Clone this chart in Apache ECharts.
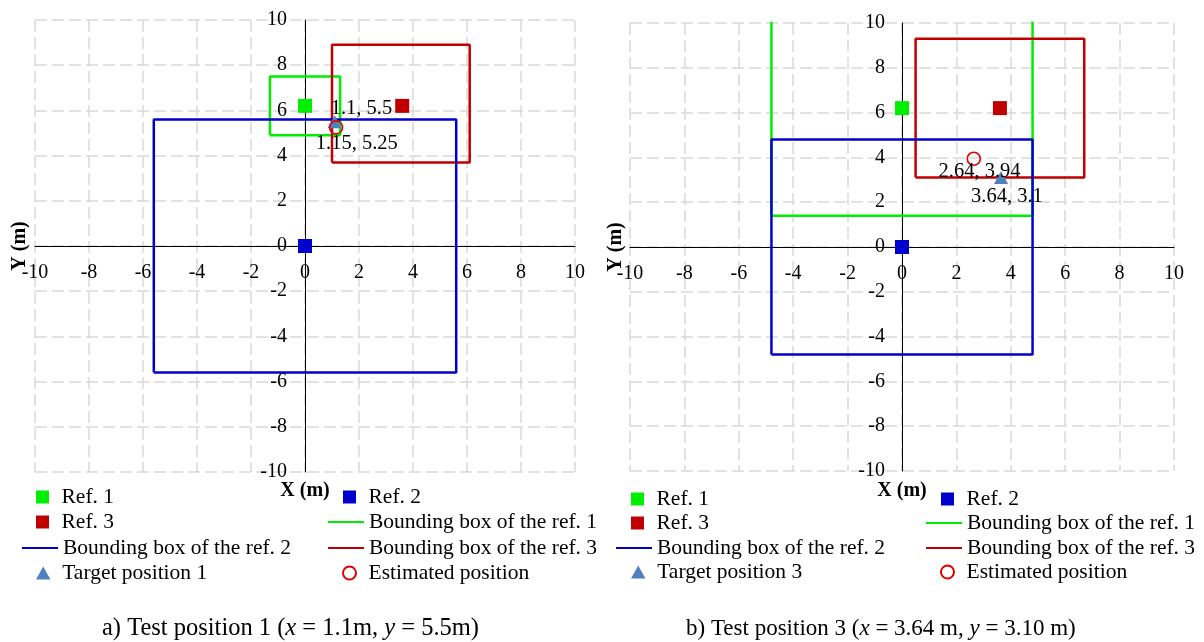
<!DOCTYPE html>
<html>
<head>
<meta charset="utf-8">
<script src="https://cdn.jsdelivr.net/npm/echarts@6/dist/echarts.min.js"></script>
<style>
  html, body { margin: 0; padding: 0; background: #ffffff; }
  #chart { width: 1204px; height: 642px; }
</style>
</head>
<body>
<div id="chart"></div>
<script>
// ---------- axis range ----------
const axisMin = -10;
const axisMax = 10;
const axisStep = 2;

// ---------- a) Test position 1 ----------
const aRef1 = [[0, 6.2]];
const aRef2 = [[0, 0]];
const aRef3 = [[3.6, 6.2]];
// bounding boxes: [xmin, xmax, ymin, ymax]
const aBox1 = [-1.3, 1.3, 4.9, 7.5];
const aBox2 = [-5.6, 5.6, -5.6, 5.6];
const aBox3 = [1.0, 6.1, 3.7, 8.9];
const aTarget = [[1.1, 5.5]];
const aEstimate = [[1.15, 5.25]];

// ---------- b) Test position 3 ----------
const bRef1 = [[0, 6.2]];
const bRef2 = [[0, 0]];
const bRef3 = [[3.6, 6.2]];
const bBox1 = [-4.8, 4.8, 1.4, 11.0];
const bBox2 = [-4.8, 4.8, -4.8, 4.8];
const bBox3 = [0.5, 6.7, 3.1, 9.3];
const bTarget = [[3.64, 3.1]];
const bEstimate = [[2.64, 3.94]];

const FONT = '"Liberation Serif", "Times New Roman", serif';
const GREEN = '#00ee00', BLUE = '#0000cc', RED = '#c00000', TRI = '#4f81bd', CIRC = '#dd0000';
const SQUARE = 'path://M0,0H10V10H0Z';
const TRIANGLE = 'path://M5,0L10,9L0,9Z';
const TICK_FS = 20;
const LABEL_FS = 20.5;
const LEGEND_FS = 21.5;

function boxPath(b) {
  return [[b[0], b[2]], [b[1], b[2]], [b[1], b[3]], [b[0], b[3]], [b[0], b[2]]];
}

function lineSeries(name, box, color, i) {
  return {
    type: 'line', name, data: boxPath(box), xAxisIndex: i, yAxisIndex: i,
    symbol: 'none', clip: true, silent: true,
    lineStyle: { color, width: 2.5 }, itemStyle: { color, opacity: 0 }, z: 2
  };
}
function squareSeries(name, data, color, i) {
  return {
    type: 'scatter', name, data, xAxisIndex: i, yAxisIndex: i,
    symbol: SQUARE, symbolSize: 14, itemStyle: { color, opacity: 1 }, z: 3
  };
}
function labelFmt(p) { return p.value[0] + ', ' + p.value[1]; }

function pointSeries(i, target, estimate, targetName, tPos, ePos) {
  return [
    {
      type: 'scatter', name: targetName, data: target, xAxisIndex: i, yAxisIndex: i,
      symbol: TRIANGLE, symbolSize: [14, 13], itemStyle: { color: TRI, opacity: 1 }, z: 4,
      label: { show: true, formatter: labelFmt, position: tPos, align: 'left', verticalAlign: 'middle',
               fontFamily: FONT, fontSize: LABEL_FS, color: '#000' }
    },
    {
      type: 'scatter', name: 'Estimated position', data: estimate, xAxisIndex: i, yAxisIndex: i,
      symbol: 'circle', symbolSize: 13,
      itemStyle: { color: 'rgba(255,255,255,0)', borderColor: CIRC, borderWidth: 1.6, opacity: 1 }, z: 5,
      label: { show: true, formatter: labelFmt, position: ePos, align: 'left', verticalAlign: 'middle',
               fontFamily: FONT, fontSize: LABEL_FS, color: '#000' }
    }
  ];
}

function axis(name, nameGap, gridIndex, offset, margin) {
  return {
    type: 'value', gridIndex, min: axisMin, max: axisMax, interval: axisStep,
    offset,
    name, nameLocation: 'middle', nameGap,
    nameTextStyle: { fontFamily: FONT, fontSize: TICK_FS, fontWeight: 'bold', color: '#000' },
    axisLine: { show: true, onZero: false, lineStyle: { color: '#000', width: 1 } },
    axisTick: { show: false },
    axisLabel: { fontFamily: FONT, fontSize: TICK_FS, color: '#000', margin },
    splitLine: { show: true, lineStyle: { color: '#d9d9d9', width: 1.5, type: [12, 5] } }
  };
}

function leg(name, left, cy, kind) {
  const isLine = kind === 'line';
  const o = {
    data: [name], left, top: cy - 11, orient: 'horizontal', padding: 0,
    itemWidth: isLine ? 36 : 28, itemHeight: isLine ? 12 : 13, selectedMode: false,
    textStyle: { fontFamily: FONT, fontSize: LEGEND_FS, color: '#000' }
  };
  if (isLine) o.itemStyle = { opacity: 0 };
  return o;
}

const aRows = [497, 522, 548, 573];
const bRows = [499, 523, 548, 572];

function titleRich(fs) {
  return {
    n: { fontFamily: FONT, fontSize: fs, color: '#000', fontWeight: 'normal' },
    i: { fontFamily: FONT, fontSize: fs, color: '#000', fontWeight: 'normal', fontStyle: 'italic' }
  };
}

const option = {
  animation: false,
  backgroundColor: '#ffffff',
  grid: [
    { left: 35, top: 20, width: 540, height: 452, outerBoundsMode: 'none', containLabel: false },
    { left: 630, top: 23, width: 544, height: 448, outerBoundsMode: 'none', containLabel: false }
  ],
  xAxis: [
    axis('X (m)', 235, 0, -226, 17),
    axis('X (m)', 234, 1, -224, 17)
  ],
  yAxis: [
    axis('Y (m)', 275, 0, -270, 18),
    axis('Y (m)', 276, 1, -272, 17)
  ],
  title: [
    {
      text: '{n|a) Test position 1 (}{i|x}{n| = 1.1m, }{i|y}{n| = 5.5m)}',
      left: 102, top: 616, padding: 0,
      textStyle: { fontWeight: 'normal', rich: titleRich(24.5) }
    },
    {
      text: '{n|b) Test position 3 (}{i|x}{n| = 3.64 m, }{i|y}{n| = 3.10 m)}',
      left: 686, top: 617, padding: 0,
      textStyle: { fontWeight: 'normal', rich: titleRich(23) }
    }
  ],
  legend: [
    leg('Ref. 1', 36, aRows[0], 'sq'),
    leg('Ref. 3', 36, aRows[1], 'sq'),
    leg('Bounding box of the ref. 2', 21, aRows[2], 'line'),
    leg('Target position 1', 36, aRows[3], 'sq'),
    leg('Ref. 2', 343, aRows[0], 'sq'),
    leg('Bounding box of the ref. 1', 327, aRows[1], 'line'),
    leg('Bounding box of the ref. 3', 327, aRows[2], 'line'),
    leg('Estimated position', 342, aRows[3], 'sq'),

    leg('Ref. 1', 631, bRows[0], 'sq'),
    leg('Ref. 3', 631, bRows[1], 'sq'),
    leg('Bounding box of the ref. 2', 615, bRows[2], 'line'),
    leg('Target position 3', 631, bRows[3], 'sq'),
    leg('Ref. 2', 941, bRows[0], 'sq'),
    leg('Bounding box of the ref. 1', 925, bRows[1], 'line'),
    leg('Bounding box of the ref. 3', 925, bRows[2], 'line'),
    leg('Estimated position', 940, bRows[3], 'sq')
  ],
  series: [
    lineSeries('Bounding box of the ref. 1', aBox1, GREEN, 0),
    lineSeries('Bounding box of the ref. 3', aBox3, RED, 0),
    lineSeries('Bounding box of the ref. 2', aBox2, BLUE, 0),
    squareSeries('Ref. 1', aRef1, GREEN, 0),
    squareSeries('Ref. 2', aRef2, BLUE, 0),
    squareSeries('Ref. 3', aRef3, RED, 0),
    ...pointSeries(0, aTarget, aEstimate, 'Target position 1', [3, -7], [-13, 24]),

    lineSeries('Bounding box of the ref. 1', bBox1, GREEN, 1),
    lineSeries('Bounding box of the ref. 3', bBox3, RED, 1),
    lineSeries('Bounding box of the ref. 2', bBox2, BLUE, 1),
    squareSeries('Ref. 1', bRef1, GREEN, 1),
    squareSeries('Ref. 2', bRef2, BLUE, 1),
    squareSeries('Ref. 3', bRef3, RED, 1),
    ...pointSeries(1, bTarget, bEstimate, 'Target position 3', [-23, 26], [-28, 20])
  ]
};

const chart = echarts.init(document.getElementById('chart'), null, { renderer: 'canvas' });
chart.setOption(option);
</script>
</body>
</html>
